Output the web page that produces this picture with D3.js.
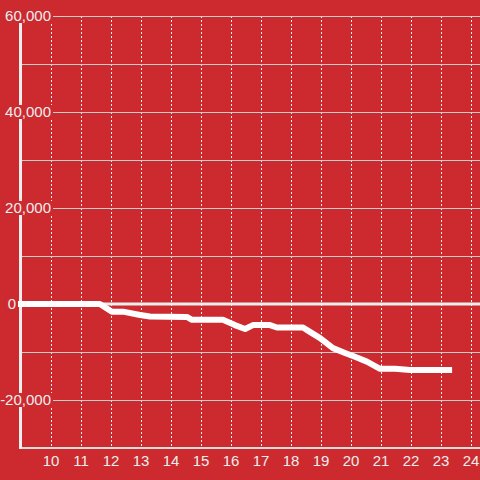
<!DOCTYPE html>
<html>
<head>
<meta charset="utf-8">
<script src="https://cdn.jsdelivr.net/npm/d3@7"></script>
<style>
  html, body { margin: 0; padding: 0; background: #cc2a2e; }
  svg { display: block; }
  text { font-family: "Liberation Sans", Arial, sans-serif; }
</style>
</head>
<body>
<svg id="chart" width="480" height="480"></svg>
<script>
// ---- data ----
const hours  = [9, 11.63, 12.03, 12.4, 12.97, 13.3, 14.53, 14.7, 15.73, 16.13, 16.47, 16.73, 17.3, 17.53, 18.4, 18.63, 18.97, 19.4, 19.8, 20.13, 20.53, 20.97, 21.47, 21.97, 23.27];
const values = [0, 0, -1600, -1600, -2300, -2600, -2700, -3300, -3300, -4400, -5200, -4400, -4400, -4900, -4900, -5800, -7100, -9200, -10200, -11000, -12000, -13500, -13500, -13750, -13750];
const xTicks = [10, 11, 12, 13, 14, 15, 16, 17, 18, 19, 20, 21, 22, 23, 24];
const yTicks = [60000, 40000, 20000, 0, -20000];
const yGrid  = [60000, 50000, 40000, 30000, 20000, 10000, -10000, -20000];

// ---- layout ----
const W = 480, H = 480;
const bg = "#cc2a2e";
const svg = d3.select("#chart");
svg.append("rect").attr("width", W).attr("height", H).attr("fill", bg);

const x = d3.scaleLinear().domain([9, 24.3]).range([21, 480]);
const y = d3.scaleLinear().domain([-30000, 60000]).range([448, 16]);

// vertical dashed gridlines
svg.append("g").selectAll("line").data(xTicks).join("line")
  .attr("x1", d => Math.round(x(d)) + 0.5).attr("x2", d => Math.round(x(d)) + 0.5)
  .attr("y1", y(60000)).attr("y2", y(-30000))
  .attr("stroke", "#eeeeee").attr("stroke-width", 1)
  .attr("stroke-dasharray", "2,2");

// horizontal gridlines
svg.append("g").selectAll("line").data(yGrid).join("line")
  .attr("x1", 21).attr("x2", W)
  .attr("y1", d => Math.round(y(d)) + 0.5).attr("y2", d => Math.round(y(d)) + 0.5)
  .attr("stroke", "#cccccc").attr("stroke-width", 1);

// bottom axis line
svg.append("line")
  .attr("x1", 21).attr("x2", W).attr("y1", y(-30000)).attr("y2", y(-30000))
  .attr("stroke", "#dddddd").attr("stroke-width", 2);

// zero line
svg.append("line")
  .attr("x1", 21).attr("x2", W).attr("y1", y(0)).attr("y2", y(0))
  .attr("stroke", "#eeeeee").attr("stroke-width", 3);

// vertical axis line
svg.append("line")
  .attr("x1", 20.5).attr("x2", 20.5).attr("y1", y(60000)).attr("y2", y(-30000) + 1)
  .attr("stroke", "#eeeeee").attr("stroke-width", 3);

// y tick labels with background
const fmt = d3.format(",");
const yl = svg.append("g").selectAll("g").data(yTicks).join("g")
  .attr("transform", d => `translate(${d === 0 ? 16 : 51},${y(d)})`);
yl.append("text")
  .attr("text-anchor", "end").attr("dy", "0.35em")
  .attr("font-size", 15).attr("fill", "#eeeeee")
  .text(d => fmt(d).replace("−", "-"));
yl.each(function() {
  const g = d3.select(this);
  const bb = g.select("text").node().getBBox();
  g.insert("rect", "text")
    .attr("x", bb.x - 2).attr("y", -7)
    .attr("width", bb.width + 4).attr("height", 14)
    .attr("fill", bg);
});

// x tick labels
svg.append("g").selectAll("text").data(xTicks).join("text")
  .attr("x", d => x(d)).attr("y", 461).attr("dy", "0.35em")
  .attr("text-anchor", "middle").attr("font-size", 15).attr("fill", "#eeeeee")
  .text(d => d);

// data line
const line = d3.line().x((d, i) => x(hours[i])).y(d => y(d)).curve(d3.curveLinear);
svg.append("path").datum(values)
  .attr("d", line).attr("fill", "none")
  .attr("stroke", "#ffffff").attr("stroke-width", 6)
  .attr("stroke-linecap", "square").attr("stroke-linejoin", "round");
</script>
</body>
</html>
